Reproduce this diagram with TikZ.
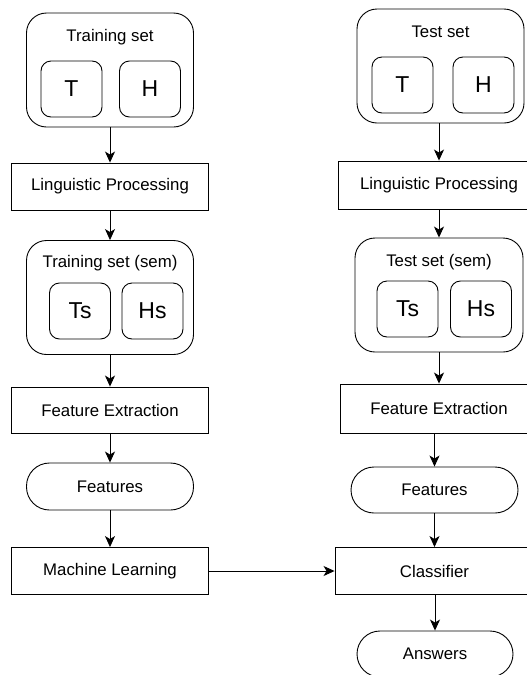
\documentclass[tikz,border=0pt]{standalone}
\usepackage{fontspec}
\setmainfont{Liberation Sans}
\usetikzlibrary{arrows.meta}

\tikzset{
  setbox/.style={draw, rounded corners=20pt, minimum width=167pt, minimum height=114pt, inner sep=0pt},
  partbox/.style={draw, rounded corners=10pt, minimum width=61pt, minimum height=56pt, inner sep=0pt, font=\fontsize{23}{26}\selectfont},
  stepbox/.style={draw, minimum width=197pt, minimum height=47pt, inner sep=0pt},
  pillbox/.style={draw, rounded corners=23pt, minimum width=167pt, minimum height=46pt, inner sep=0pt},
  setlabel/.style={inner sep=0pt},
  arr/.style={-{Stealth[length=11pt,width=10pt,inset=3pt]}}
}

\begin{document}
\begin{tikzpicture}[x=1pt, y=-1pt, line width=0.9pt, font=\fontsize{16.8}{19}\selectfont]
        \useasboundingbox (0,0) rectangle (527,675);

        % Draw the training side
        \node[setbox] (trainset) at (110,70) {};
        \node[setlabel] (trainlbl) at (110,37) {Training set};
        \node[partbox] (trainT) at (71.5,89) {T};
        \node[partbox] (trainH) at (150,89) {H};

        \node[stepbox] (lingL) at (110,186.5) {Linguistic Processing};

        \node[setbox] (semL) at (110,297.5) {};
        \node[setlabel] (semLlbl) at (110,263) {Training set (sem)};
        \node[partbox] (semLT) at (80,311) {Ts};
        \node[partbox] (semLH) at (152.5,311) {Hs};

        \node[stepbox, minimum height=46pt] (featexL) at (110,410) {Feature Extraction};
        \node[pillbox, minimum height=47pt] (featL) at (110,486.5) {Features};
        \node[stepbox] (mlL) at (110,571) {Machine Learning};

        % Draw the test side
        \node[setbox] (testset) at (440.5,66) {};
        \node[setlabel] (testlbl) at (440.5,32) {Test set};
        \node[partbox] (testT) at (402.5,85) {T};
        \node[partbox] (testH) at (483.5,85) {H};

        \node[stepbox, minimum width=202pt, minimum height=48pt] (lingR) at (439,185) {Linguistic Processing};

        \node[setbox, minimum width=168pt] (semR) at (439,295) {};
        \node[setlabel] (semRlbl) at (439,262) {Test set (sem)};
        \node[partbox] (semRT) at (407.5,309) {Ts};
        \node[partbox] (semRH) at (481,309) {Hs};

        \node[stepbox, minimum width=198pt, minimum height=49pt] (featexR) at (439,408.5) {Feature Extraction};
        \node[pillbox] (featR) at (434.5,490) {Features};
        \node[stepbox, minimum width=199pt] (clsR) at (434.5,571) {Classifier};
        \node[pillbox, minimum width=156pt] (ansR) at (435,654) {Answers};

        % Draw the arrows between the nodes
        \draw[arr] (trainset.south -| lingL.north) -- (lingL.north);
        \draw[arr] (lingL.south -| semL.north) -- (semL.north);
        \draw[arr] (semL.south -| featexL.north) -- (featexL.north);
        \draw[arr] (featexL.south -| featL.north) -- (featL.north);
        \draw[arr] (featL.south -| mlL.north) -- (mlL.north);

        \draw[arr] (testset.south -| lingR.north) -- (lingR.north);
        \draw[arr] (lingR.south -| semR.north) -- (semR.north);
        \draw[arr] (semR.south -| featexR.north) -- (featexR.north);
        \draw[arr] (featexR.south -| featR.north) -- (featR.north);
        \draw[arr] (featR.south -| clsR.north) -- (clsR.north);
        \draw[arr] (clsR.south -| ansR.north) -- (ansR.north);

        \draw[arr] (mlL.east) -- (clsR.west);
    \end{tikzpicture}
\end{document}
